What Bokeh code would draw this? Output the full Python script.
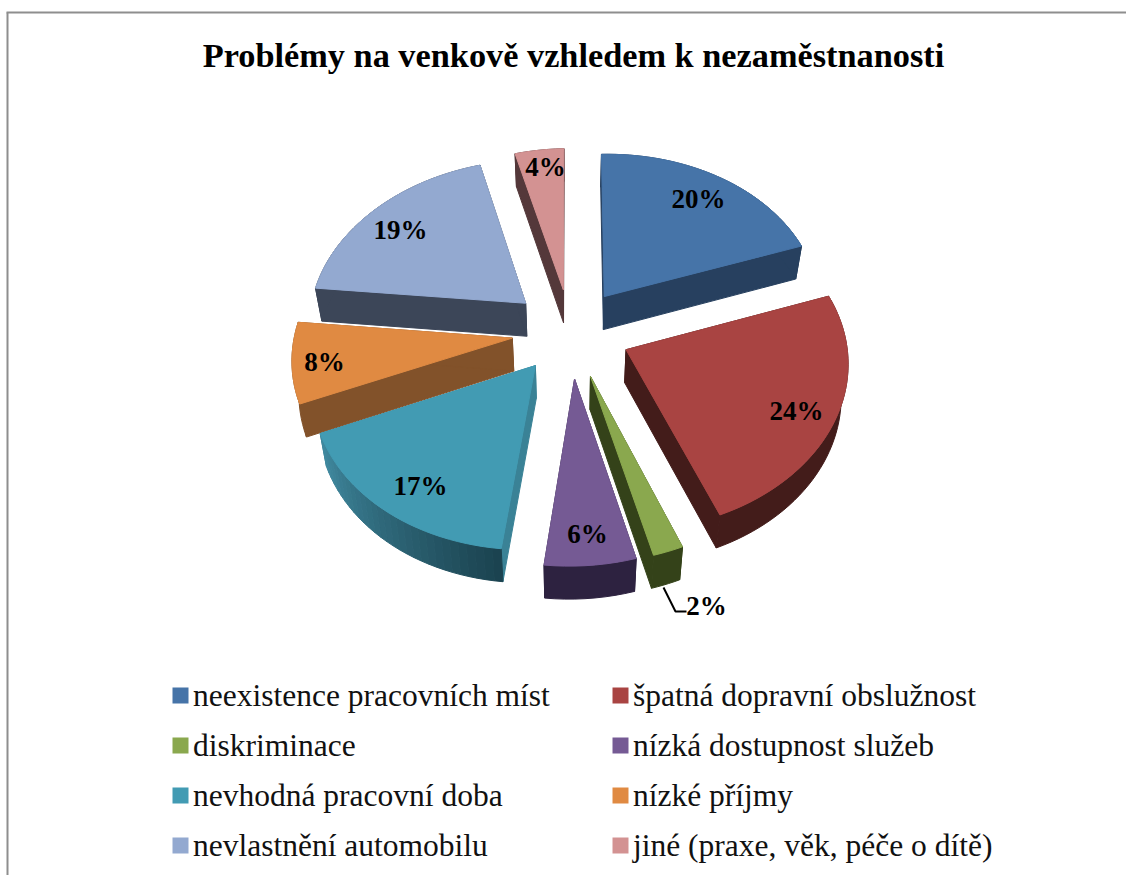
import numpy as np
from bokeh.plotting import figure
from bokeh.models import Range1d
from bokeh.core.properties import value
from bokeh.embed import file_html
from bokeh.resources import INLINE

title = "Problémy na venkově vzhledem k nezaměstnanosti"
categories = ["neexistence pracovních míst", "špatná dopravní obslužnost", "diskriminace",
              "nízká dostupnost služeb", "nevhodná pracovní doba", "nízké příjmy",
              "nevlastnění automobilu", "jiné (praxe, věk, péče o dítě)"]
shares = [20, 24, 2, 6, 17, 8, 19, 4]

top_colors = ["#4674A8", "#A94442", "#8AA84E", "#755A94", "#429BB3", "#E08A42", "#93A9D0", "#D39292"]
side_colors = ["#27405F", "#431C1A", "#344219", "#2D2240", "#3A8296", "#82522A", "#3C4658", "#54383A"]
explode = [0.26, 0.27, 0.28, 0.28, 0.25, 0.26, 0.27, 0.26]
label_xy = [(698, 198), (796, 410), (706, 605), (587, 533), (420, 485), (324, 361), (400, 229), (545, 166)]
draw_order = [7, 0, 5, 6, 4, 1, 2, 3]

W, H = 1126, 875
CX, CY, A, B, PERSP, RAD, DEPTH, SHRINK, TILT = 570, 331, 225, 166, 0.093, 0.97, 33, 0.975, 0.02


def project(X, Y):
    s = 1 / (1 - PERSP * Y)
    px = A * X * s
    return CX + px, CY + B * Y * s - TILT * px


def lerp_hex(c0, c1, t):
    a = [int(c0[i:i + 2], 16) for i in (1, 3, 5)]
    b = [int(c1[i:i + 2], 16) for i in (1, 3, 5)]
    return "#%02X%02X%02X" % tuple(int(round(u + (v - u) * t)) for u, v in zip(a, b))


p = figure(width=W, height=H, x_range=Range1d(0, W), y_range=Range1d(H, 0),
           toolbar_location=None, output_backend="svg", min_border=0,
           x_axis_location=None, y_axis_location=None, background_fill_color="white",
           border_fill_color="white", outline_line_color=None)
p.grid.visible = False

edges = np.cumsum([0] + shares) * 3.6
xs, ys, cols = [], [], []
for i in draw_order:
    a0, a1 = edges[i], edges[i + 1]
    mid = np.radians((a0 + a1) / 2)
    ex, ey = explode[i] * np.sin(mid), -explode[i] * np.cos(mid)
    th = np.radians(np.linspace(a0, a1, max(6, int((a1 - a0) / 2))))
    gx, gy = project(ex + RAD * np.sin(th), ey - RAD * np.cos(th))
    ax, ay = project(ex, ey)
    tx = np.r_[ax, gx]
    ty = np.r_[ay, gy]
    bx = CX + (tx - CX) * SHRINK
    by = ty + DEPTH
    n = len(tx)
    # the two radial walls
    for k, j in ((0, 1), (n - 1, 0)):
        xs.append([tx[k], tx[j], bx[j], bx[k]])
        ys.append([ty[k], ty[j], by[j], by[k]])
        cols.append(side_colors[i])
    # the outer wall
    if i == 4:
        for k in range(1, n - 1):
            xs.append([tx[k], tx[k + 1], bx[k + 1], bx[k]])
            ys.append([ty[k], ty[k + 1], by[k + 1], by[k]])
            cols.append(lerp_hex("#1B4350", "#40899F", (k - 1) / (n - 3)))
    else:
        xs.append(list(tx[1:]) + list(bx[:0:-1]))
        ys.append(list(ty[1:]) + list(by[:0:-1]))
        cols.append(side_colors[i])
    xs.append(list(tx))
    ys.append(list(ty))
    cols.append(top_colors[i])
p.patches(xs, ys, fill_color=cols, line_color=cols, line_width=1)

# frame
p.line([7, 7], [H, 12], line_color="#8E8E8E", line_width=2)
p.line([6, W], [12, 12], line_color="#8E8E8E", line_width=2)

# leader of the small label
p.line([663, 675, 686], [587, 611, 611], line_color="black", line_width=2)

serif = value("Liberation Serif")
p.text([573], [54], text=[title], text_font=serif, text_font_style="bold", text_font_size="34.3px",
       text_align="center", text_baseline="middle", text_color="black")
p.text([q[0] for q in label_xy], [q[1] for q in label_xy], text=["%d%%" % v for v in shares],
       text_font=serif, text_font_style="bold", text_font_size="27px", text_align="center",
       text_baseline="middle", text_color="black")

leg_x = [180 if i % 2 == 0 else 620 for i in range(8)]
leg_y = [695 + 50 * (i // 2) for i in range(8)]
p.rect(leg_x, leg_y, width=16, height=16, fill_color=top_colors, line_color=None)
p.text([x + 12.5 for x in leg_x], leg_y, text=categories, text_font=serif, text_font_size="31.5px",
       text_align="left", text_baseline="middle", text_color="#111111")

open("out.html", "w").write(file_html(p, INLINE))
